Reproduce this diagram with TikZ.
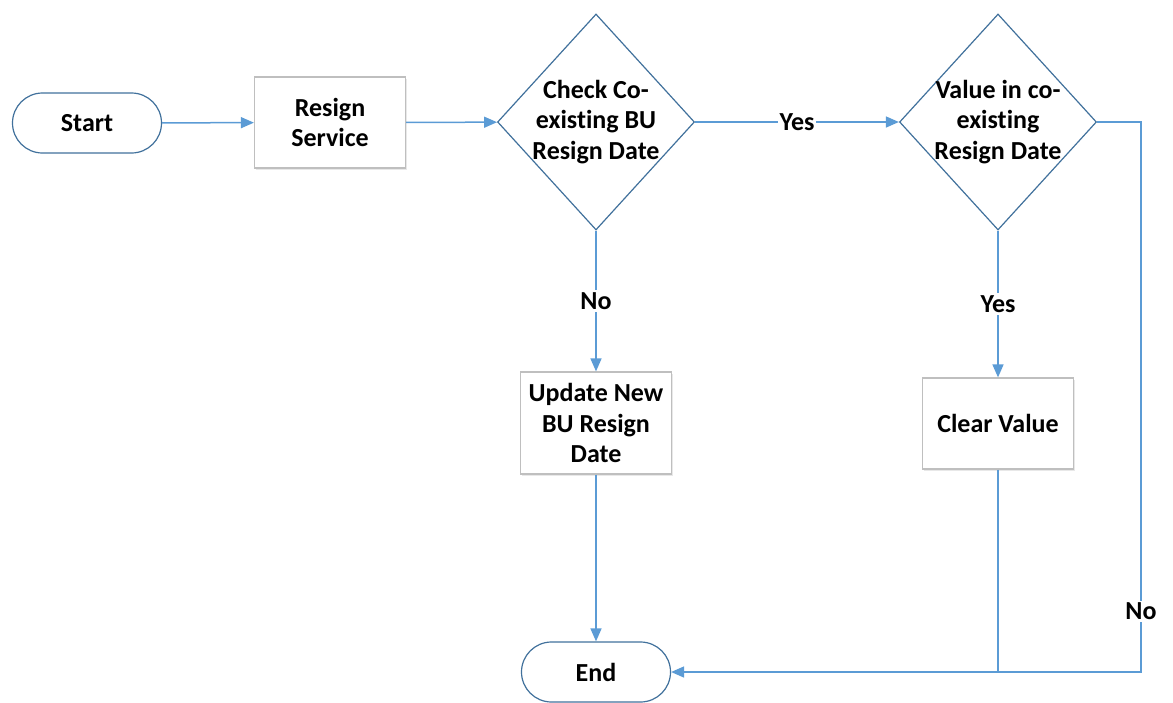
\documentclass[tikz,border=0pt]{standalone}
\usepackage{fontspec}
\setmainfont{Carlito}[Ligatures=NoCommon]
\usetikzlibrary{shapes.geometric,arrows.meta,shadows}
\definecolor{lineblue}{RGB}{91,155,213}
\definecolor{edgeblue}{RGB}{65,113,156}
\definecolor{boxgray}{RGB}{191,191,191}

\begin{document}
\begin{tikzpicture}[x=1pt,y=1pt,
  every node/.style={font=\fontsize{26}{30.5}\selectfont\bfseries, align=center, inner sep=0pt},
  terminal/.style={draw=edgeblue, line width=1.2pt, fill=white, rounded corners=30pt, minimum width=149pt, minimum height=60pt},
  procbox/.style={draw=boxgray, line width=1.2pt, fill=white, drop shadow={opacity=0.18, shadow xshift=1.5pt, shadow yshift=-1.5pt}, minimum width=151pt},
  decision/.style={diamond, aspect=0.91, draw=edgeblue, line width=1.2pt, fill=white, inner sep=-18pt, minimum width=197pt, minimum height=216pt},
  flow/.style={draw=lineblue, line width=1.5pt, -{Triangle[length=13pt,width=11pt]}},
  plain/.style={draw=lineblue, line width=1.5pt},
  lbl/.style={fill=white, inner sep=2pt}]
\useasboundingbox (0,0) rectangle (1173,-702);
% nodes
\node [terminal] (start) at (87,-123) {Start};
\node [procbox, minimum height=91pt] (resign) at (330,-122.5) {Resign\\Service};
\node [decision] (check) at (596,-122) {Check Co-\\existing BU\\Resign Date};
\node [decision] (value) at (998,-122) {Value in co-\\existing\\Resign Date};
\node [procbox, minimum height=102pt] (update) at (596,-423) {Update New\\BU Resign\\Date};
\node [procbox, minimum height=91pt] (clear) at (998,-423.5) {Clear Value};
\node [terminal] (end) at (596,-672) {End};
\coordinate (corner) at (1141,-122);
% connectors
\draw [flow] (start) -- (resign);
\draw [flow] (resign) -- (check);
\draw [flow] (check) -- node [lbl] {Yes} (value);
\draw [flow] (check) -- node [lbl] {No} (update);
\draw [flow] (value) -- node [lbl] {Yes} (clear);
\draw [flow] (update) -- (end);
\draw [flow] (value.east) -- (corner) -- node [lbl, pos=0.89] {No} (corner |- end) -- (end.east);
\draw [plain] (clear.south) -- (clear.south |- end);
\end{tikzpicture}
\end{document}
